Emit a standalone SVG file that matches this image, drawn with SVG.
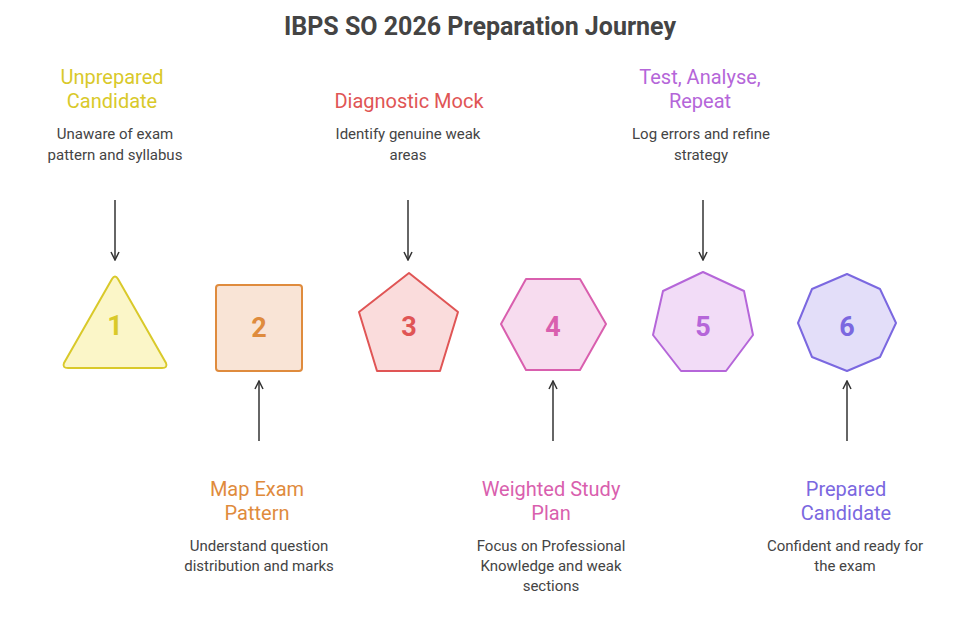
<svg xmlns="http://www.w3.org/2000/svg" width="956" height="617" viewBox="0 0 956 617">
<defs>
<marker id="ah" viewBox="0 0 10 10" refX="9" refY="5" markerWidth="10" markerHeight="10" markerUnits="userSpaceOnUse" orient="auto">
<path d="M1,1 L9,5 L1,9" fill="none" stroke="#333" stroke-width="1.5"/>
</marker>
<style>
text{font-family:Roboto,"Liberation Sans",sans-serif;text-anchor:middle}
.title{font-size:25px;font-weight:bold;fill:#444}
.lbl{font-size:20px}
.desc{font-size:15px;fill:#444}
.num{font-size:27px;font-weight:bold}
.shape{stroke-width:2;stroke-linejoin:round}
.conn{stroke:#333;stroke-width:1.5;fill:none;marker-end:url(#ah)}
</style>
</defs>
<rect width="956" height="617" fill="#fff"/>
<text class="title" x="480" y="35">IBPS SO 2026 Preparation Journey</text>

<g id="connectors">
<line class="conn" x1="115" y1="200" x2="115" y2="260"/>
<line class="conn" x1="408" y1="200" x2="408" y2="260"/>
<line class="conn" x1="703" y1="200" x2="703" y2="260"/>
<line class="conn" x1="259" y1="441" x2="259" y2="381"/>
<line class="conn" x1="553" y1="441" x2="553" y2="381"/>
<line class="conn" x1="847" y1="441" x2="847" y2="381"/>
</g>

<g id="node1">
<path class="shape" d="M112,279 Q115,274 118,279 L166,363 Q168,368 162,368 L68,368 Q62,368 64,363 Z" fill="#fbf6c8" stroke="#d9c92a"/>
<text class="num" x="115" y="335" fill="#d9c92a">1</text>
<text class="lbl" x="112" y="84" fill="#d9c92a">Unprepared</text>
<text class="lbl" x="112" y="108" fill="#d9c92a">Candidate</text>
<text class="desc" x="115" y="139">Unaware of exam</text>
<text class="desc" x="115" y="160">pattern and syllabus</text>
</g>

<g id="node2">
<rect class="shape" x="216" y="285" width="86" height="86" rx="3" fill="#f9e4d6" stroke="#df8b3d"/>
<text class="num" x="259" y="337" fill="#df8b3d">2</text>
<text class="lbl" x="257" y="496" fill="#df8b3d">Map Exam</text>
<text class="lbl" x="257" y="520" fill="#df8b3d">Pattern</text>
<text class="desc" x="259" y="551">Understand question</text>
<text class="desc" x="259" y="571">distribution and marks</text>
</g>

<g id="node3">
<polygon class="shape" points="409,273 458,312 440,371 377,371 359,312" fill="#fadcdc" stroke="#e05555"/>
<text class="num" x="409" y="336" fill="#e05555">3</text>
<text class="lbl" x="409" y="108" fill="#e05555">Diagnostic Mock</text>
<text class="desc" x="408" y="139">Identify genuine weak</text>
<text class="desc" x="408" y="160">areas</text>
</g>

<g id="node4">
<polygon class="shape" points="526,279 580,279 606,324 580,370 526,370 501,324" fill="#f7dcef" stroke="#d95fae"/>
<text class="num" x="553" y="336" fill="#d95fae">4</text>
<text class="lbl" x="551" y="496" fill="#d95fae">Weighted Study</text>
<text class="lbl" x="551" y="520" fill="#d95fae">Plan</text>
<text class="desc" x="551" y="551">Focus on Professional</text>
<text class="desc" x="551" y="571">Knowledge and weak</text>
<text class="desc" x="551" y="591">sections</text>
</g>

<g id="node5">
<polygon class="shape" points="703,272 744,291 753,335 726,371 681,371 653,335 663,291" fill="#f2dcf7" stroke="#b566d9"/>
<text class="num" x="703" y="336" fill="#b566d9">5</text>
<text class="lbl" x="700" y="84" fill="#b566d9">Test, Analyse,</text>
<text class="lbl" x="700" y="108" fill="#b566d9">Repeat</text>
<text class="desc" x="701" y="139">Log errors and refine</text>
<text class="desc" x="701" y="160">strategy</text>
</g>

<g id="node6">
<polygon class="shape" points="847,274 880,289 896,323 880,357 847,371 812,357 798,323 812,289" fill="#e3def9" stroke="#7b68e0"/>
<text class="num" x="847" y="336" fill="#7b68e0">6</text>
<text class="lbl" x="846" y="496" fill="#7b68e0">Prepared</text>
<text class="lbl" x="846" y="520" fill="#7b68e0">Candidate</text>
<text class="desc" x="845" y="551">Confident and ready for</text>
<text class="desc" x="845" y="571">the exam</text>
</g>
</svg>
